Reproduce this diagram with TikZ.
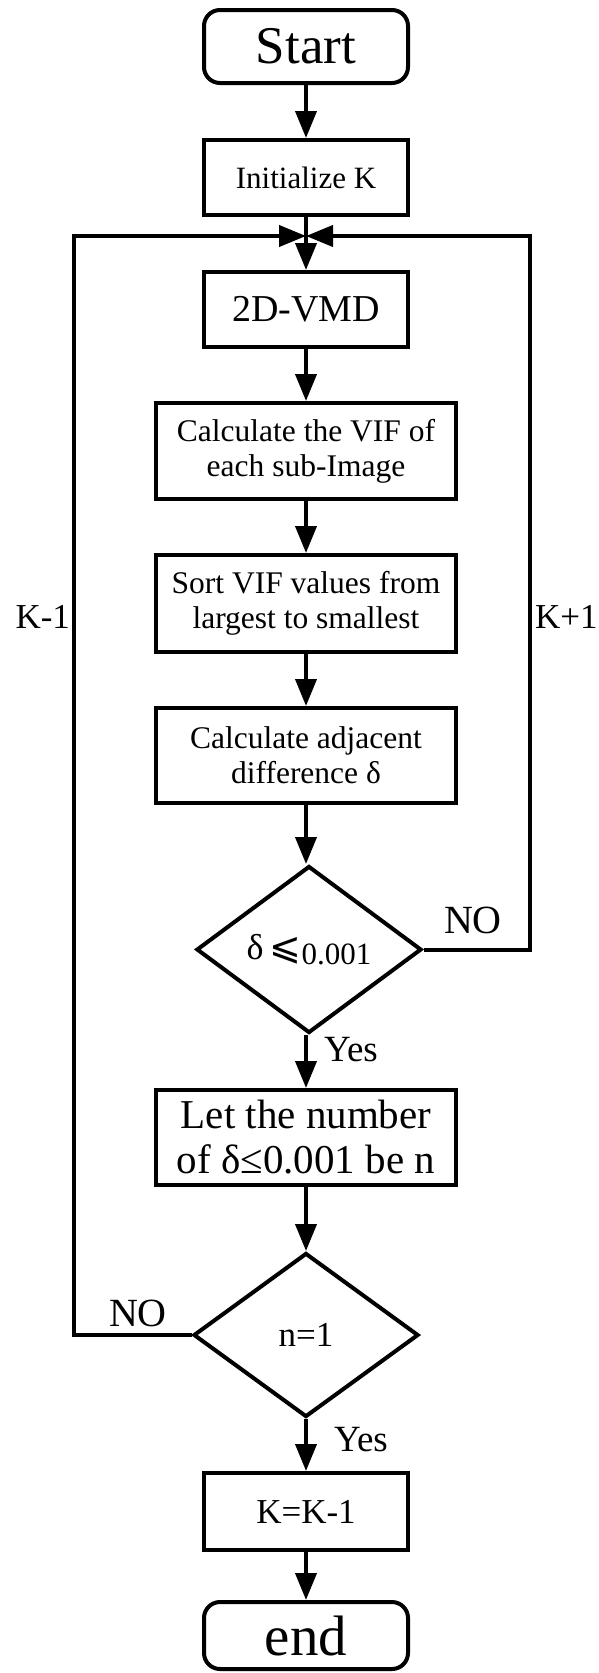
\documentclass[tikz,border=0pt]{standalone}
\usepackage{fontspec}
\setmainfont{Liberation Serif}
\newfontfamily\symfont{DejaVu Sans}
\usetikzlibrary{shapes.geometric,arrows.meta}
\begin{document}
\begin{tikzpicture}[x=1pt,y=-1pt,
  line width=4pt,
  box/.style={draw, rectangle, line width=4pt, inner sep=0pt, align=center, minimum width=204pt},
  wide/.style={box, minimum width=300pt},
  term/.style={box, rounded corners=16pt},
  dec/.style={draw, diamond, line width=4pt, inner sep=0pt, minimum width=225pt, minimum height=166pt},
  arr/.style={-{Triangle[length=27pt,width=21pt]}, line width=4pt},
  lbl/.style={inner sep=0pt, font=\fontsize{37}{40}\selectfont}
]
\useasboundingbox (0,0) rectangle (598,1673);

\node[term, minimum height=73pt, font=\fontsize{53}{56}\selectfont] (start) at (306,46.5) {Start};
\node[box, minimum height=75pt, font=\fontsize{31}{35}\selectfont] (init) at (306,177.5) {Initialize K};
\node[box, minimum height=75pt, font=\fontsize{38}{42}\selectfont] (vmd) at (306,309.5) {2D-VMD};
\node[wide, minimum height=96pt, font=\fontsize{31.5}{35}\selectfont] (vif) at (306,451) {Calculate the VIF of\\each sub-Image};
\node[wide, minimum height=97pt, font=\fontsize{31.5}{35}\selectfont] (sort) at (306,603.5) {Sort VIF values from\\largest to smallest};
\node[wide, minimum height=95pt, font=\fontsize{31.5}{35}\selectfont] (adj) at (306,755.5) {Calculate adjacent\\difference δ};
\node[dec, minimum height=167pt, font=\fontsize{36}{38}\selectfont] (d1) at (309,949.5) {δ\,{\symfont\fontsize{38}{40}\selectfont ⩽}\raisebox{-5pt}{\fontsize{31}{32}\selectfont 0.001}};
\node[wide, minimum height=95pt, font=\fontsize{41}{45}\selectfont] (let) at (306,1137.5) {Let the number\\of δ≤0.001 be n};
\node[dec, minimum height=164pt, font=\fontsize{35}{38}\selectfont] (d2) at (306,1335) {n=1};
\node[box, minimum height=77pt, font=\fontsize{35}{38}\selectfont] (kk) at (306,1511.5) {K=K-1};
\node[term, minimum height=67pt, font=\fontsize{57}{60}\selectfont] (end) at (306,1635.5) {end};

\coordinate (m) at (306,236);
\coordinate (rc) at (530,236);
\coordinate (lc) at (74,236);

\draw[arr] (start) -- (init);
\draw[arr] (init) -- (vmd);
\draw[arr] (vmd) -- (vif);
\draw[arr] (vif) -- (sort);
\draw[arr] (sort) -- (adj);
\draw[arr] (adj) -- (adj |- d1.north);
\draw[arr] (d1.south -| let) -- (let);
\draw[arr] (let) -- (d2);
\draw[arr] (d2) -- (kk);
\draw[arr] (kk) -- (end);
\draw[arr] (d1.east) -| (rc) -- (m);
\draw[arr] (d2.west) -| (lc) -- (m);

\node[lbl, font=\fontsize{40}{42}\selectfont] (no1) at (473,920) {NO};
\node[lbl, font=\fontsize{40}{42}\selectfont] (no2) at (138,1313) {NO};
\node[lbl, anchor=west] (yes1) at (322,1050) {Yes};
\node[lbl, anchor=west] (yes2) at (332,1440) {Yes};
\node[lbl, font=\fontsize{35}{38}\selectfont, anchor=east] (km) at (72,617) {K-1};
\node[lbl, font=\fontsize{35}{38}\selectfont, anchor=west] (kp) at (533,617) {K+1};
\end{tikzpicture}
\end{document}
